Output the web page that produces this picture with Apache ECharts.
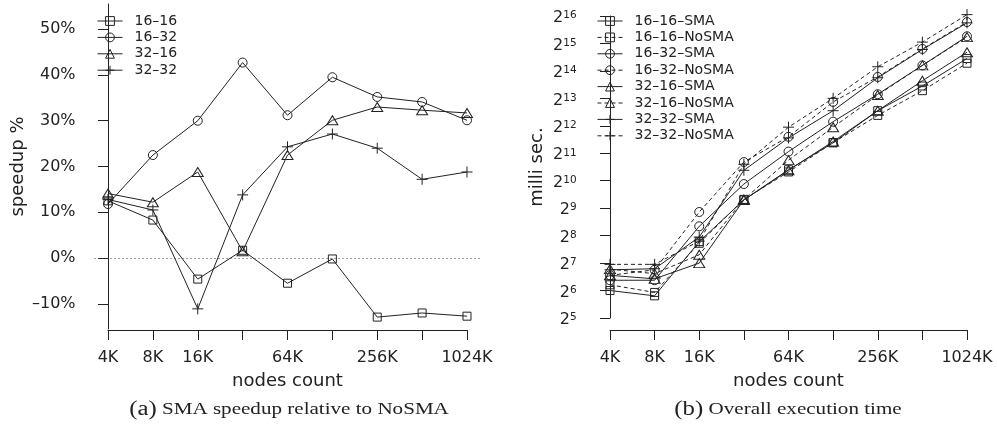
<!DOCTYPE html>
<html>
<head>
<meta charset="utf-8">
<script src="https://cdn.jsdelivr.net/npm/echarts@6/dist/echarts.min.js"></script>
<style>
html,body{margin:0;padding:0;background:#fff;}
#chart{width:997px;height:427px;}
</style>
</head>
<body>
<div id="chart"></div>
<script>
// ---------- data ----------
const categories = ['4K','8K','16K','32K','64K','128K','256K','512K','1024K'];
const xTickLabels = ['4K','8K','16K','','64K','','256K','','1024K'];
const speedupTicks = [-10, 0, 10, 20, 30, 40, 50];
const timeTickExponents = [5,6,7,8,9,10,11,12,13,14,15,16];

// (a) speedup %
const speedup_16_16 = [12.5, 8.3, -4.6, 1.7, -5.5, -0.2, -12.9, -12.0, -12.7];
const speedup_16_32 = [11.8, 22.5, 30.0, 42.7, 31.2, 39.5, 35.2, 34.1, 30.1];
const speedup_32_16 = [14.1, 12.2, 18.8, 1.5, 22.5, 30.1, 33.0, 32.3, 31.7];
const speedup_32_32 = [12.8, 10.5, -11.1, 13.8, 24.3, 27.1, 24.0, 17.2, 18.8];

// (b) execution time, milli sec.
const time_16_16_SMA   = [64, 56, 220, 630, 1352, 2665, 6000, 11190, 22380];
const time_16_16_NoSMA = [74, 61, 211, 639, 1278, 2680, 5330, 9950, 19890];
const time_16_32_SMA   = [83, 83, 324, 942, 2136, 4547, 9093, 18820, 39230];
const time_16_32_NoSMA = [94, 108, 465, 1641, 3105, 7487, 14070, 28530, 56270];
const time_32_16_SMA   = [94, 86, 128, 630, 1333, 2759, 6000, 12770, 26250];
const time_32_16_NoSMA = [110, 98, 158, 639, 1722, 3957, 8904, 18820, 38440];
const time_32_32_SMA   = [108, 111, 247, 1333, 3019, 6000, 13780, 28130, 55120];
const time_32_32_NoSMA = [124, 124, 223, 1552, 3957, 8192, 18190, 33920, 67830];

// ---------- styles ----------
const INK = '#222';
const FONT = 'DejaVu Sans';
const SYM = {
  square: {symbol: 'path://M0,0L10,0L10,10L0,10Z', size: 8},
  circle: {symbol: 'path://M5,0A5,5 0 1,1 5,10A5,5 0 1,1 5,0Z', size: 9},
  triangle: {symbol: 'path://M5,0L10,8.66L0,8.66Z', size: [11, 9]},
  plus: {symbol: 'path://M0,5L10,5M5,0L5,10', size: 11}
};

function mk(name, values, sym, xi, yi, dashed) {
  return {
    name: name,
    type: 'line',
    xAxisIndex: xi,
    yAxisIndex: yi,
    data: values.map((v, i) => [i, v]),
    symbol: SYM[sym].symbol,
    symbolSize: SYM[sym].size,
    showSymbol: true,
    clip: false,
    animation: false,
    lineStyle: {color: INK, width: 1, type: dashed ? [4, 3] : 'solid'},
    itemStyle: {color: 'rgba(0,0,0,0)', borderColor: INK, borderWidth: 1},
    emphasis: {disabled: true}
  };
}

const leftSeries = [
  mk('16\u201316', speedup_16_16, 'square', 0, 0, false),
  mk('16\u201332', speedup_16_32, 'circle', 0, 0, false),
  mk('32\u201316', speedup_32_16, 'triangle', 0, 0, false),
  mk('32\u201332', speedup_32_32, 'plus', 0, 0, false)
];
leftSeries[0].markLine = {
  silent: true, symbol: 'none', label: {show: false},
  lineStyle: {color: '#444', width: 1, type: [1, 3]},
  data: [{yAxis: 0}], animation: false
};

const rightSeries = [
  mk('16\u201316\u2013SMA', time_16_16_SMA, 'square', 2, 2, false),
  mk('16\u201316\u2013NoSMA', time_16_16_NoSMA, 'square', 2, 2, true),
  mk('16\u201332\u2013SMA', time_16_32_SMA, 'circle', 2, 2, false),
  mk('16\u201332\u2013NoSMA', time_16_32_NoSMA, 'circle', 2, 2, true),
  mk('32\u201316\u2013SMA', time_32_16_SMA, 'triangle', 2, 2, false),
  mk('32\u201316\u2013NoSMA', time_32_16_NoSMA, 'triangle', 2, 2, true),
  mk('32\u201332\u2013SMA', time_32_32_SMA, 'plus', 2, 2, false),
  mk('32\u201332\u2013NoSMA', time_32_32_NoSMA, 'plus', 2, 2, true)
];

const labelFont = {fontFamily: FONT, fontSize: 16, color: INK};
const nameFont = {fontFamily: FONT, fontSize: 18, color: INK};

function displayX(gi) {
  return {
    gridIndex: gi, type: 'category', data: categories, boundaryGap: false,
    axisLine: {show: true, lineStyle: {color: INK, width: 1}},
    axisTick: {show: true, length: 10, interval: 0, lineStyle: {color: INK}},
    axisLabel: Object.assign({interval: 0, margin: 20, formatter: (v, i) => xTickLabels[i]}, labelFont),
    splitLine: {show: false},
    name: 'nodes count', nameLocation: 'middle', nameGap: 42, nameTextStyle: nameFont
  };
}
function hiddenX(gi) {
  return {gridIndex: gi, type: 'value', min: -0.3, max: 8.3, show: false};
}

const legendCommon = {
  orient: 'vertical', itemWidth: 25, itemHeight: 11, itemGap: 0,
  selectedMode: false, padding: 0,
  lineStyle: {width: 1},
  itemStyle: {borderWidth: 1},
  textStyle: {fontFamily: FONT, fontSize: 14, color: INK, lineHeight: 16.4, padding: [0, 0, 0, 7]}
};

const option = {
  backgroundColor: '#fff',
  animation: false,
  grid: [
    {left: 94.54, right: 516.54, top: 4, bottom: 98},
    {left: 108, right: 530, top: 4, bottom: 97},
    {left: 596.6, right: 16.6, top: 16, bottom: 109},
    {left: 610, right: 30, top: 16, bottom: 97}
  ],
  xAxis: [hiddenX(0), displayX(1), hiddenX(2), displayX(3)],
  yAxis: [
    {
      gridIndex: 0, type: 'value', min: -15.5, max: 55.5,
      axisLine: {show: true, lineStyle: {color: INK, width: 1}},
      axisTick: {show: true, length: 10, customValues: speedupTicks, lineStyle: {color: INK}},
      axisLabel: Object.assign({customValues: speedupTicks, margin: 19,
        formatter: v => (v < 0 ? '\u2013' + Math.abs(v) : v) + '%'}, labelFont),
      splitLine: {show: false},
      name: 'speedup %', nameLocation: 'middle', nameGap: 67, nameTextStyle: nameFont
    },
    {gridIndex: 1, type: 'value', show: false},
    {
      gridIndex: 2, type: 'log', logBase: 2, min: 32, max: 65536,
      axisLine: {show: true, lineStyle: {color: INK, width: 1}},
      axisTick: {show: true, length: 10, customValues: timeTickExponents.map(e => Math.pow(2, e)), lineStyle: {color: INK}},
      axisLabel: {
        customValues: timeTickExponents.map(e => Math.pow(2, e)), margin: 20,
        padding: [4, 0, 0, 0],
        formatter: v => '{b|2}{s|' + Math.round(Math.log2(v)) + '}',
        rich: {
          b: {fontFamily: FONT, fontSize: 16, color: INK, lineHeight: 16, verticalAlign: 'bottom', padding: [4, 0, 0, 0]},
          s: {fontFamily: FONT, fontSize: 10.5, color: INK, lineHeight: 10, verticalAlign: 'top'}
        }
      },
      splitLine: {show: false},
      name: 'milli sec.', nameLocation: 'middle', nameGap: 50, nameTextStyle: nameFont
    },
    {gridIndex: 3, type: 'value', show: false}
  ],
  legend: [
    Object.assign({left: 97, top: 12.8, data: leftSeries.map(s => s.name)}, legendCommon),
    Object.assign({left: 597, top: 12.8, data: rightSeries.map(s => s.name)}, legendCommon)
  ],
  graphic: [
    {type: 'text', x: 289, y: 410, scaleX: 1.24, silent: true,
      style: {text: '{p|(a)} SMA speedup relative to NoSMA', fontFamily: 'Liberation Serif', fontSize: 17, fill: INK,
        align: 'center', verticalAlign: 'middle',
        rich: {p: {fontFamily: 'Liberation Serif', fontSize: 20, fill: INK}}}},
    {type: 'text', x: 788, y: 410, scaleX: 1.24, silent: true,
      style: {text: '{p|(b)} Overall execution time', fontFamily: 'Liberation Serif', fontSize: 17, fill: INK,
        align: 'center', verticalAlign: 'middle',
        rich: {p: {fontFamily: 'Liberation Serif', fontSize: 20, fill: INK}}}}
  ],
  series: leftSeries.concat(rightSeries)
};

const chart = echarts.init(document.getElementById('chart'), null, {renderer: 'canvas'});
chart.setOption(option);
</script>
</body>
</html>
